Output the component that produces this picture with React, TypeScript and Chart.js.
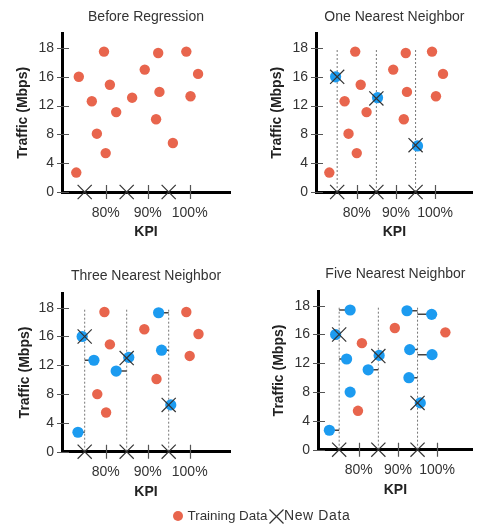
import React, { useEffect, useRef } from 'react';
import { Chart, registerables } from 'chart.js';

Chart.register(...registerables);

const FONT = "'Liberation Sans', Arial, sans-serif";
const RED = '#E8654D';
const BLUE = '#1C9BF0';
const INK = '#333333';

// ---- shared axis data ----
const yTickValues = [0, 4, 8, 12, 16, 20];
const yTickLabels = ['0', '4', '8', '12', '16', '18'];
const kpiTickValues = [80, 90, 100];
const kpiTickLabels = ['80%', '90%', '100%'];

// ---- new data (KPI positions and predicted traffic) ----
const newKpi = [75, 85, 95];
const newTraffic = [16, 13, 6.5];

// ---- panel 1: Before Regression ----
const trainKpi = [73.6, 73.0, 76.7, 77.9, 79.6, 80.0, 81.0, 82.5, 86.3, 89.3, 92.5, 92.8, 92.0, 96.0, 99.2, 102.0, 100.2];
const trainTraffic = [16.0, 2.7, 12.6, 8.1, 19.5, 5.4, 14.9, 11.1, 13.1, 17.0, 19.3, 13.9, 10.1, 6.8, 19.5, 16.4, 13.3];

// ---- panel 2: One Nearest Neighbor ----
const oneRedKpi = [73.0, 76.9, 77.9, 79.6, 80.0, 81.0, 82.5, 89.3, 92.5, 92.8, 92.0, 99.2, 102.0, 100.2];
const oneRedTraffic = [2.7, 12.6, 8.1, 19.5, 5.4, 14.9, 11.1, 17.0, 19.3, 13.9, 10.1, 19.5, 16.4, 13.3];
const oneBlueKpi = [74.6, 85.3, 95.5];
const oneBlueTraffic = [16.0, 13.1, 6.4];
const oneBlueLink = [-1, -1, -1];

// ---- panel 3: Three Nearest Neighbor ----
const threeRedKpi = [79.7, 81.0, 89.2, 92.1, 78.0, 80.1, 99.2, 102.1, 100.0];
const threeRedTraffic = [19.4, 14.9, 17.0, 10.1, 8.0, 5.45, 19.4, 16.35, 13.3];
const threeBlueKpi = [74.4, 77.2, 73.4, 82.5, 85.5, 92.6, 93.3, 95.5];
const threeBlueTraffic = [16.0, 12.7, 2.7, 11.2, 13.1, 19.3, 14.1, 6.5];
const threeBlueLink = [-1, 0, 0, 1, -1, 2, 2, -1];

// ---- panel 4: Five Nearest Neighbor ----
const fiveRedKpi = [80.8, 79.8, 89.2, 102.1];
const fiveRedTraffic = [14.8, 5.4, 16.9, 16.3];
const fiveBlueKpi = [77.8, 74.1, 76.9, 77.8, 72.5, 82.4, 85.2, 92.3, 93.0, 92.8, 98.6, 98.7, 95.7];
const fiveBlueTraffic = [19.4, 16.0, 12.6, 8.0, 2.7, 11.1, 13.1, 19.3, 13.9, 10.0, 18.8, 13.2, 6.5];
const fiveBlueLink = [0, -1, 0, -1, 0, 1, -1, 2, 2, 2, 2, 2, -1];

const pts = (xs: number[], ys: number[]) => xs.map((x, i) => ({ x, y: ys[i] }));

type PanelSpec = {
  title: string;
  left: number; top: number; width: number; height: number;
  areaLeft: number; areaRight: number; areaTop: number; areaBottom: number;
  xMin: number; xMax: number;
  titlePadTop: number;
  yTitleX: number;
  xTitleY: number;
  red: [number[], number[]];
  blue?: [number[], number[], number[]];
  predicted: boolean;
  guides: boolean;
};

const crossTicks = {
  id: 'crossTicks',
  beforeDatasetsDraw(chart: any) {
    const { ctx, chartArea, scales } = chart;
    const x = scales.x, y = scales.y;
    ctx.save();
    ctx.strokeStyle = '#555';
    ctx.lineWidth = 1.2;
    ctx.beginPath();
    x.ticks.forEach((t: any) => {
      const px = Math.round(x.getPixelForValue(t.value)) + 0.5;
      ctx.moveTo(px, chartArea.bottom - 7);
      ctx.lineTo(px, chartArea.bottom + 7);
    });
    y.ticks.forEach((t: any) => {
      const py = Math.round(y.getPixelForValue(t.value)) + 0.5;
      ctx.moveTo(chartArea.left - 5, py);
      ctx.lineTo(chartArea.left + 7, py);
    });
    ctx.stroke();
    ctx.restore();
  },
};

function buildConfig(p: PanelSpec): any {
  const datasets: any[] = [];
  const guideTop = yTickValues[yTickValues.length - 1];
  // X markers on the KPI axis
  datasets.push({
    data: newKpi.map((x) => ({ x, y: 0 })),
    pointStyle: 'crossRot', pointRadius: 10, borderColor: INK, borderWidth: 1.2,
    backgroundColor: 'transparent', clip: false,
  });
  if (p.predicted) {
    datasets.push({
      data: pts(newKpi, newTraffic),
      pointStyle: 'crossRot', pointRadius: 10, borderColor: INK, borderWidth: 1.2,
      backgroundColor: 'transparent', clip: false,
    });
  }
  if (p.blue) {
    datasets.push({
      data: pts(p.blue[0], p.blue[1]),
      pointRadius: 5.6, backgroundColor: BLUE, borderWidth: 0,
    });
  }
  datasets.push({
    data: pts(p.red[0], p.red[1]),
    pointRadius: 5.2, backgroundColor: RED, borderWidth: 0,
  });
  if (p.blue) {
    const [bx, by, links] = p.blue;
    links.forEach((l, i) => {
      if (l < 0) return;
      datasets.push({
        data: [{ x: bx[i], y: by[i] }, { x: newKpi[l], y: by[i] }],
        showLine: true, pointRadius: 0, borderColor: '#444', borderWidth: 1.5,
      });
    });
  }
  if (p.guides) {
    newKpi.forEach((k) => {
      datasets.push({
        data: [{ x: k, y: 0 }, { x: k, y: guideTop }],
        showLine: true, pointRadius: 0, borderColor: '#777', borderWidth: 1,
        borderDash: [2, 2],
      });
    });
  }

  const titleLH = 14 * 1.2;
  const axisLH = 14 * 1.2;
  return {
    type: 'scatter',
    data: { datasets },
    options: {
      responsive: false,
      animation: false,
      devicePixelRatio: 1,
      events: [],
      layout: { padding: { left: 0, right: p.width - p.areaRight, top: 0, bottom: 0 } },
      plugins: {
        legend: { display: false },
        tooltip: { enabled: false },
        title: {
          display: true,
          text: p.title,
          fullSize: false,
          color: INK,
          font: { family: FONT, size: 14, weight: 'normal', lineHeight: 1.2 },
          padding: { top: p.titlePadTop, bottom: p.areaTop - p.titlePadTop - titleLH },
        },
      },
      scales: {
        x: {
          type: 'linear',
          position: 'bottom',
          min: p.xMin,
          max: p.xMax,
          afterBuildTicks: (s: any) => { s.ticks = kpiTickValues.map((v) => ({ value: v })); },
          afterFit: (s: any) => { s.height = p.height - p.areaBottom; },
          grid: { display: false, drawTicks: false },
          border: { display: true, color: '#000', width: 3 },
          ticks: {
            padding: 12.5,
            color: INK,
            autoSkip: false,
            maxRotation: 0,
            font: { family: FONT, size: 14 },
            callback: (v: number) => {
              const i = kpiTickValues.indexOf(v);
              return i >= 0 ? kpiTickLabels[i] : '';
            },
          },
          title: {
            display: true,
            text: 'KPI',
            color: '#222',
            font: { family: FONT, size: 14, weight: 'bold', lineHeight: 1.2 },
            padding: { top: 0, bottom: p.height - p.xTitleY - axisLH / 2 },
          },
        },
        y: {
          type: 'linear',
          position: 'left',
          min: 0,
          max: 22,
          afterBuildTicks: (s: any) => { s.ticks = yTickValues.map((v) => ({ value: v })); },
          afterFit: (s: any) => { s.width = p.areaLeft; },
          grid: { display: false, drawTicks: false },
          border: { display: true, color: '#000', width: 3 },
          ticks: {
            padding: 8,
            color: INK,
            autoSkip: false,
            font: { family: FONT, size: 14 },
            callback: (v: number) => {
              const i = yTickValues.indexOf(v);
              return i >= 0 ? yTickLabels[i] : '';
            },
          },
          title: {
            display: true,
            text: 'Traffic (Mbps)',
            color: '#222',
            font: { family: FONT, size: 14, weight: 'bold', lineHeight: 1.2 },
            padding: { top: p.yTitleX - axisLH / 2, bottom: 0 },
          },
        },
      },
    },
    plugins: [crossTicks],
  };
}

const panels: PanelSpec[] = [
  {
    title: 'Before Regression', left: 0, top: 0, width: 242, height: 250,
    areaLeft: 62, areaRight: 230, areaTop: 33.6, areaBottom: 192,
    xMin: 69.6, xMax: 109.6, titlePadTop: 8.6, yTitleX: 23, xTitleY: 232,
    red: [trainKpi, trainTraffic], predicted: false, guides: false,
  },
  {
    title: 'One Nearest Neighbor', left: 242, top: 0, width: 242, height: 250,
    areaLeft: 74, areaRight: 242, areaTop: 33.6, areaBottom: 192,
    xMin: 69.6, xMax: 109.6, titlePadTop: 8.6, yTitleX: 35, xTitleY: 232,
    red: [oneRedKpi, oneRedTraffic], blue: [oneBlueKpi, oneBlueTraffic, oneBlueLink],
    predicted: true, guides: true,
  },
  {
    title: 'Three Nearest Neighbor', left: 0, top: 259, width: 242, height: 250,
    areaLeft: 62, areaRight: 230, areaTop: 34.3, areaBottom: 192.7,
    xMin: 69.6, xMax: 109.6, titlePadTop: 8.6, yTitleX: 25, xTitleY: 233.3,
    red: [threeRedKpi, threeRedTraffic], blue: [threeBlueKpi, threeBlueTraffic, threeBlueLink],
    predicted: true, guides: true,
  },
  {
    title: 'Five Nearest Neighbor', left: 242, top: 257, width: 242, height: 250,
    areaLeft: 76, areaRight: 242, areaTop: 34.3, areaBottom: 192.7,
    xMin: 69.6, xMax: 109.1, titlePadTop: 8.6, yTitleX: 36.7, xTitleY: 233,
    red: [fiveRedKpi, fiveRedTraffic], blue: [fiveBlueKpi, fiveBlueTraffic, fiveBlueLink],
    predicted: true, guides: true,
  },
];

function Panel({ spec }: { spec: PanelSpec }) {
  const ref = useRef<HTMLCanvasElement>(null);
  useEffect(() => {
    if (!ref.current) return;
    const chart = new Chart(ref.current, buildConfig(spec));
    return () => chart.destroy();
  }, [spec]);
  return (
    <canvas
      ref={ref}
      width={spec.width}
      height={spec.height}
      style={{ position: 'absolute', left: spec.left, top: spec.top, width: spec.width, height: spec.height }}
    />
  );
}

export default function App() {
  return (
    <div style={{ position: 'absolute', left: 0, top: 0, width: 484, height: 525, background: '#fff', fontFamily: FONT, overflow: 'hidden' }}>
      {panels.map((p) => (
        <Panel key={p.title} spec={p} />
      ))}
      <div style={{ position: 'absolute', left: 172.5, top: 510.5, width: 10.4, height: 10.4, borderRadius: '50%', background: RED }} />
      <span style={{ position: 'absolute', left: 187.5, top: 507, fontSize: 13.4, lineHeight: '17px', color: INK, whiteSpace: 'nowrap' }}>Training Data</span>
      <svg style={{ position: 'absolute', left: 268.5, top: 508.5 }} width={15} height={15}>
        <line x1={0.5} y1={0.5} x2={14.5} y2={14.5} stroke={INK} strokeWidth={1.2} />
        <line x1={14.5} y1={0.5} x2={0.5} y2={14.5} stroke={INK} strokeWidth={1.2} />
      </svg>
      <span style={{ position: 'absolute', left: 284, top: 507, fontSize: 14, letterSpacing: '0.6px', lineHeight: '17px', color: INK, whiteSpace: 'nowrap' }}>New Data</span>
    </div>
  );
}
